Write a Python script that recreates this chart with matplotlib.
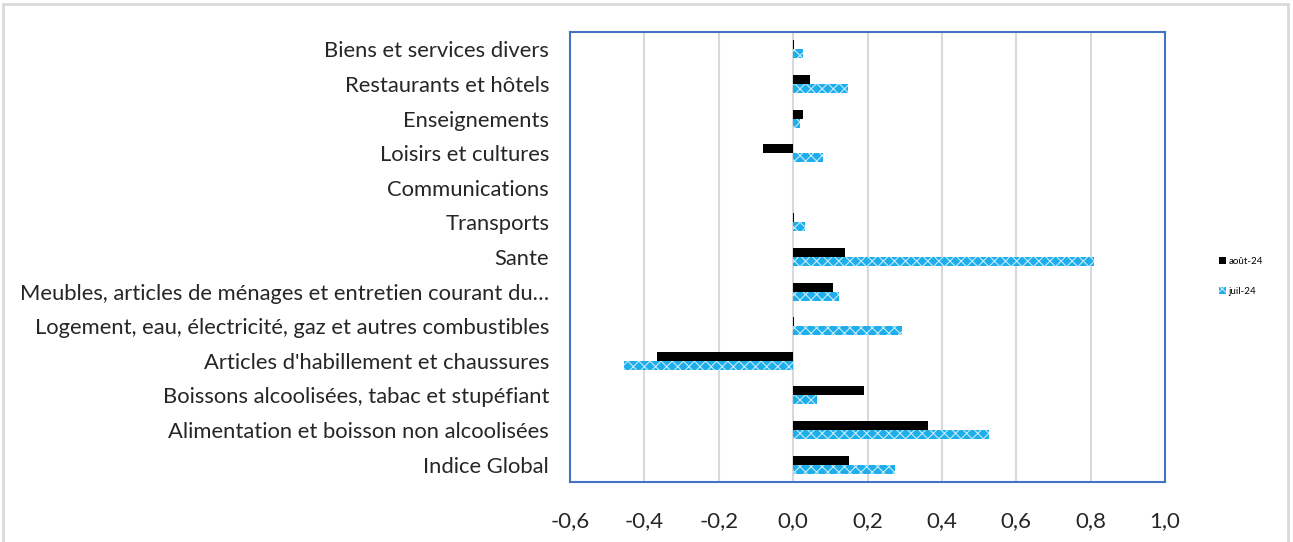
import matplotlib
matplotlib.use("Agg")
import matplotlib.pyplot as plt
from matplotlib.patches import Rectangle
import numpy as np

categories = [
    "Indice Global",
    "Alimentation et boisson non alcoolisées",
    "Boissons alcoolisées, tabac et stupéfiant",
    "Articles d'habillement et chaussures",
    "Logement, eau, électricité, gaz et autres combustibles",
    "Meubles, articles de ménages et entretien courant du…",
    "Sante",
    "Transports",
    "Communications",
    "Loisirs et cultures",
    "Enseignements",
    "Restaurants et hôtels",
    "Biens et services divers",
]
aout_24 = [0.15, 0.363, 0.191, -0.366, 0.002, 0.108, 0.140, 0.002, 0.0, -0.081, 0.027, 0.046, 0.002]
juil_24 = [0.273, 0.527, 0.065, -0.454, 0.293, 0.124, 0.81, 0.032, 0.0, 0.081, 0.019, 0.148, 0.027]
series_names = ["août-24", "juil-24"]
xticks = [-0.6, -0.4, -0.2, 0.0, 0.2, 0.4, 0.6, 0.8, 1.0]

plt.rcParams['font.family'] = ['Lato', 'DejaVu Sans']
plt.rcParams['hatch.linewidth'] = 0.8

fig = plt.figure(figsize=(12.93, 5.42), dpi=100)
# outer chart frame
fig.patches.append(Rectangle((3/1293, -0.1), 1285/1293, 1.1 - 4/542, transform=fig.transFigure,
                             fill=False, edgecolor='#d9d9d9', linewidth=2))
ax = fig.add_axes([570/1293, 1 - 482/542, 595/1293, 450/542])

y = np.arange(len(categories))
h = 0.26
ax.barh(y + h/2, aout_24, height=h, color='black', linewidth=0,
        label=series_names[0], zorder=3)
ax.barh(y - h/2, juil_24, height=h, color='#1EAEEB', edgecolor='#c4ebfb', linewidth=0,
        hatch='xxx', label=series_names[1], zorder=3)

ax.set_xlim(-0.6, 1.0)
ax.set_ylim(-0.5, len(categories) - 0.5)
ax.set_xticks(xticks)
ax.set_xticklabels([f"{v:.1f}".replace('.', ',') for v in xticks], fontsize=16, color='#262626')
ax.set_yticks(y)
ax.set_yticklabels(categories, fontsize=15.8, color='#262626')
ax.tick_params(length=0, pad=15, axis='y')
ax.tick_params(length=0, pad=21, axis='x')
ax.grid(axis='x', color='#d9d9d9', linewidth=1.5, zorder=0)
ax.set_axisbelow(True)
for s in ax.spines.values():
    s.set_color('#4472C4')
    s.set_linewidth(1.5)

leg = fig.legend(loc='upper left', bbox_to_anchor=(1210/1293, 1 - 248/542), frameon=False,
                 fontsize=7, handlelength=0.7, handleheight=0.7, handletextpad=0.3,
                 labelspacing=2.2)

fig.savefig('out.png', dpi=100)
